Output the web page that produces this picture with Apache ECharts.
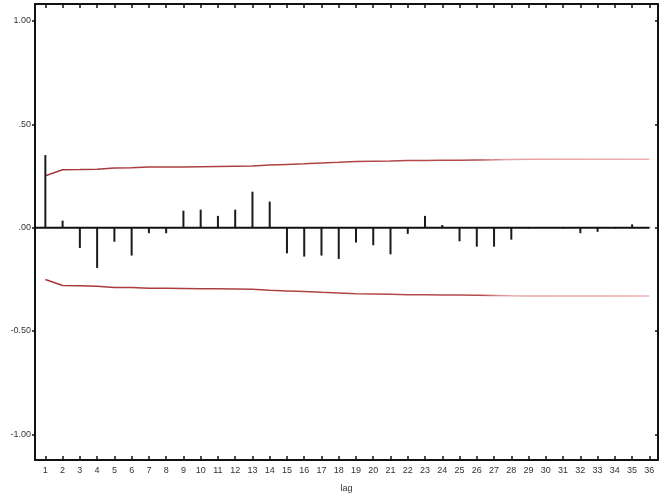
<!DOCTYPE html>
<html>
<head>
<meta charset="utf-8">
<script src="https://cdn.jsdelivr.net/npm/echarts@6/dist/echarts.min.js"></script>
<style>
  html, body { margin: 0; padding: 0; background: #fff; }
  #chart { width: 666px; height: 498px; }
</style>
</head>
<body>
<div id="chart"></div>
<script>
// Autocorrelation by lag, with the upper confidence limit at each lag
var lags = [];
for (var i = 1; i <= 36; i++) lags.push(i);

var acf = [
  0.351, 0.034, -0.098, -0.195, -0.068, -0.135, -0.027, -0.027, 0.082, 0.087,
  0.057, 0.087, 0.174, 0.126, -0.124, -0.140, -0.135, -0.151, -0.072, -0.085,
  -0.129, -0.030, 0.057, 0.013, -0.066, -0.092, -0.092, -0.058, -0.004, 0.003,
  -0.004, -0.027, -0.020, -0.004, 0.016, 0.003
];

var upperLimit = [
  0.251, 0.280, 0.281, 0.283, 0.289, 0.290, 0.293, 0.293, 0.294, 0.295,
  0.296, 0.297, 0.298, 0.303, 0.306, 0.309, 0.313, 0.316, 0.320, 0.321,
  0.322, 0.325, 0.325, 0.326, 0.326, 0.327, 0.328, 0.330, 0.331, 0.331,
  0.331, 0.331, 0.331, 0.331, 0.331, 0.331
];

var yTicks = [-1, -0.5, 0, 0.5, 1];
var yTickLabels = ['-1.00', '-0.50', '.00', '.50', '1.00'];

var xMin = 0.4, xMax = 36.5;
var yMin = -1.124, yMax = 1.082;

var bandColor = new echarts.graphic.LinearGradient(0, 0, 1, 0, [
  { offset: 0, color: '#a63838' },
  { offset: 0.72, color: '#b54c4c' },
  { offset: 0.76, color: '#e6a2a2' },
  { offset: 1, color: '#edb0b0' }
]);

var chart = echarts.init(document.getElementById('chart'), null, { renderer: 'canvas' });

var axisLine = { show: true, onZero: false, lineStyle: { color: '#111', width: 2 } };
var font = 'Liberation Sans, Arial, sans-serif';

chart.setOption({
  animation: false,
  backgroundColor: '#fff',
  grid: { left: 35, right: 8, top: 4, bottom: 37 },
  xAxis: [
    {
      type: 'value', position: 'bottom', min: xMin, max: xMax,
      name: 'lag', nameLocation: 'middle', nameGap: 24,
      nameTextStyle: { fontSize: 9, color: '#333', fontFamily: font },
      axisLine: axisLine,
      axisTick: { show: true, inside: true, length: 4, customValues: lags, lineStyle: { color: '#111', width: 1.5 } },
      axisLabel: { customValues: lags, fontSize: 9, color: '#333', margin: 6, fontFamily: font },
      splitLine: { show: false }
    },
    {
      type: 'value', position: 'top', min: xMin, max: xMax,
      axisLine: axisLine,
      axisTick: { show: true, inside: true, length: 4, customValues: lags, lineStyle: { color: '#111', width: 1.5 } },
      axisLabel: { show: false },
      splitLine: { show: false }
    }
  ],
  yAxis: [
    {
      type: 'value', position: 'left', min: yMin, max: yMax,
      axisLine: axisLine,
      axisTick: { show: true, length: 3, customValues: yTicks, lineStyle: { color: '#111', width: 1.5 } },
      axisLabel: {
        customValues: yTicks, fontSize: 9, color: '#333', margin: 4, fontFamily: font,
        formatter: function (v) { return yTickLabels[yTicks.indexOf(v)]; }
      },
      splitLine: { show: false }
    },
    {
      type: 'value', position: 'right', min: yMin, max: yMax,
      axisLine: axisLine,
      axisTick: { show: true, inside: true, length: 3, customValues: yTicks, lineStyle: { color: '#111', width: 1.5 } },
      axisLabel: { show: false },
      splitLine: { show: false }
    }
  ],
  series: [
    {
      type: 'bar', xAxisIndex: 0, yAxisIndex: 0,
      barWidth: 2,
      itemStyle: { color: '#1a1a1a' },
      data: lags.map(function (l, i) { return [l, acf[i]]; }),
      z: 3
    },
    {
      type: 'line', xAxisIndex: 0, yAxisIndex: 0,
      symbol: 'none', silent: true,
      lineStyle: { color: '#111', width: 2 },
      data: [[xMin, 0], [lags[lags.length - 1], 0]],
      z: 4
    },
    {
      type: 'line', xAxisIndex: 0, yAxisIndex: 0,
      symbol: 'none', silent: true,
      lineStyle: { color: bandColor, width: 1.5 },
      data: lags.map(function (l, i) { return [l, upperLimit[i]]; }),
      z: 2
    },
    {
      type: 'line', xAxisIndex: 0, yAxisIndex: 0,
      symbol: 'none', silent: true,
      lineStyle: { color: bandColor, width: 1.5 },
      data: lags.map(function (l, i) { return [l, -upperLimit[i]]; }),
      z: 2
    }
  ]
});
</script>
</body>
</html>
